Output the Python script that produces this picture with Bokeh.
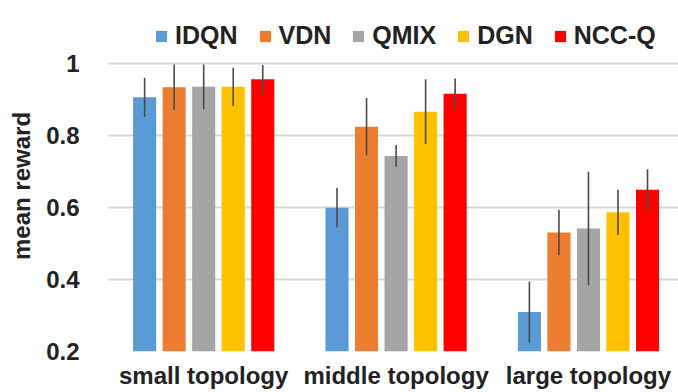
from bokeh.plotting import figure
from bokeh.models import ColumnDataSource, FixedTicker, Legend, LegendItem, Range1d
from bokeh.transform import dodge
from bokeh.embed import file_html
from bokeh.resources import INLINE

categories = ["small topology", "middle topology", "large topology"]
methods = ["IDQN", "VDN", "QMIX", "DGN", "NCC-Q"]
colors = ["#5B9BD5", "#ED7D31", "#A5A5A5", "#FFC000", "#FF0000"]

idqn = [0.907, 0.600, 0.310]
vdn = [0.935, 0.825, 0.531]
qmix = [0.936, 0.744, 0.542]
dgn = [0.936, 0.867, 0.587]
nccq = [0.957, 0.917, 0.650]

idqn_err = [0.054, 0.055, 0.085]
vdn_err = [0.063, 0.080, 0.063]
qmix_err = [0.062, 0.030, 0.158]
dgn_err = [0.053, 0.090, 0.063]
nccq_err = [0.040, 0.042, 0.057]

y_ticks = [0.2, 0.4, 0.6, 0.8, 1.0]
y_tick_labels = ["0.2", "0.4", "0.6", "0.8", "1"]

series = [idqn, vdn, qmix, dgn, nccq]
errors = [idqn_err, vdn_err, qmix_err, dgn_err, nccq_err]

FONT = "Liberation Sans"
TXT = "#222222"

p = figure(width=678, height=392, output_backend="svg", toolbar_location=None,
           x_range=Range1d(-0.5, 2.468), y_range=Range1d(0.2, 1.1205),
           min_border_left=107, min_border_right=0, min_border_top=20, min_border_bottom=41)
p.outline_line_color = None
p.background_fill_color = "white"

idx = list(range(len(categories)))
step = 0.1535
offsets = [-2 * step, -step, 0.0, step, 2 * step]
items = []
for name, vals, errs, col, off in zip(methods, series, errors, colors, offsets):
    src = ColumnDataSource(dict(idx=idx, top=vals,
                                upper=[v + e for v, e in zip(vals, errs)],
                                lower=[v - e for v, e in zip(vals, errs)]))
    r = p.vbar(x=dodge("idx", off), top="top", bottom=0.2, width=0.12, source=src,
               fill_color=col, line_color=None)
    p.segment(x0=dodge("idx", off), y0="lower", x1=dodge("idx", off), y1="upper",
              source=src, line_color="#4a4a4a", line_width=1.6)
    items.append(LegendItem(label=name, renderers=[r]))

legend = Legend(items=items, orientation="horizontal", location=(47, 301),
                glyph_width=14, glyph_height=14, label_standoff=7, spacing=20,
                padding=0, margin=0, border_line_color=None, background_fill_alpha=0,
                label_text_font=FONT, label_text_font_style="bold",
                label_text_font_size="25px", label_text_color=TXT, label_height=24)
p.add_layout(legend, "center")

p.xaxis.ticker = FixedTicker(ticks=idx)
p.xaxis.major_label_overrides = {i: c for i, c in zip(idx, categories)}
p.xaxis.axis_line_color = None
p.xaxis.major_tick_line_color = None
p.xaxis.minor_tick_line_color = None
p.xaxis.major_tick_out = 0
p.xaxis.major_tick_in = 0
p.xaxis.minor_tick_out = 0
p.xaxis.major_label_text_font = FONT
p.xaxis.major_label_text_font_style = "bold"
p.xaxis.major_label_text_font_size = "24px"
p.xaxis.major_label_text_color = TXT
p.xaxis.major_label_standoff = 10
p.xgrid.grid_line_color = None

p.yaxis.ticker = FixedTicker(ticks=y_ticks)
p.yaxis.major_label_overrides = {t: l for t, l in zip(y_ticks, y_tick_labels)}
p.yaxis.axis_line_color = None
p.yaxis.major_tick_line_color = None
p.yaxis.minor_tick_line_color = None
p.yaxis.major_tick_out = 0
p.yaxis.major_tick_in = 0
p.yaxis.minor_tick_out = 0
p.yaxis.major_label_text_font = FONT
p.yaxis.major_label_text_font_style = "bold"
p.yaxis.major_label_text_font_size = "24px"
p.yaxis.major_label_text_color = TXT
p.yaxis.major_label_standoff = 28
p.yaxis.axis_label = "mean reward"
p.yaxis.axis_label_text_font = FONT
p.yaxis.axis_label_text_font_style = "bold"
p.yaxis.axis_label_text_font_size = "24px"
p.yaxis.axis_label_text_color = TXT
p.yaxis.axis_label_standoff = 8
p.ygrid.grid_line_color = "#d9d9d9"
p.ygrid.grid_line_width = 2

open("out.html", "w").write(file_html(p, INLINE))
